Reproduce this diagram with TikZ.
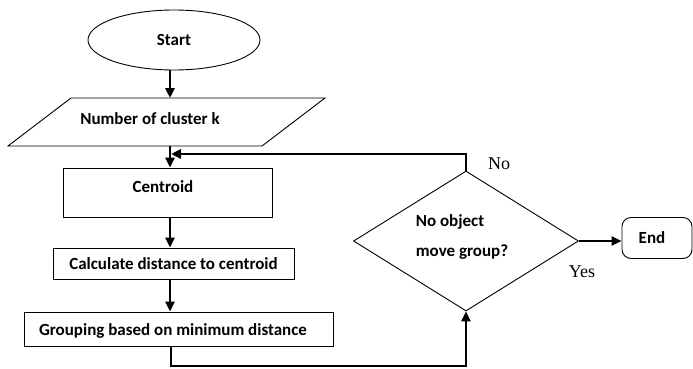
\documentclass[tikz,border=0pt]{standalone}
\usepackage{fontspec}
\setmainfont{Carlito}
\newfontfamily\serifyes{Liberation Serif}
\usetikzlibrary{shapes.geometric,arrows.meta}
\begin{document}
\begin{tikzpicture}[x=1pt,y=-1pt,
  box/.style={draw,line width=0.9pt,inner sep=0pt},
  lbl/.style={font=\fontsize{17}{19}\selectfont\bfseries},
  ans/.style={font=\fontsize{18}{20}\selectfont\serifyes},
  conn/.style={line width=2.6pt},
  arr/.style={conn,-{Triangle[length=10pt,width=9pt]}}]
\useasboundingbox (0,0) rectangle (693,369);
% spine x
\coordinate (spine) at (170,0);
% Start
\node[box,ellipse,minimum width=172pt,minimum height=60pt,lbl] (start) at (174,40) {Start};
% parallelogram
\draw[line width=0.9pt] (71,98) -- (325,98) -- (262,146) -- (8,146) -- cycle;
\coordinate (ptop) at (170,98);
\coordinate (pbot) at (170,146);
\node[lbl] (num) at (150,119) {Number of cluster k};
% rectangles
\node[box,rectangle,minimum width=209pt,minimum height=49pt] (cent) at (167.5,192.5) {};
\node[lbl] (centt) at (163,187) {Centroid};
\node[box,rectangle,minimum width=241pt,minimum height=31pt,lbl] (calc) at (173.5,263.5) {Calculate distance to centroid};
\node[box,rectangle,minimum width=309pt,minimum height=34pt] (grp) at (178.5,329) {};
\node[lbl] (grpt) at (173,331) {Grouping based on minimum distance};
% diamond
\node[box,diamond,minimum width=225pt,minimum height=140pt] (dia) at (466,241) {};
\node[lbl,align=left,font=\fontsize{17}{30}\selectfont\bfseries] (diat) at (462,237) {No object\\move group?};
% End
\node[draw,line width=0.9pt,rounded corners=9pt,minimum width=70pt,minimum height=41pt,lbl,inner sep=0pt] (end) at (657,238) {\hspace*{-10pt}End};
% labels
\node[ans] (no) at (499,164) {No};
\node[ans] (yes) at (582,272) {Yes};
% connectors
\draw[arr] (start.south -| spine) -- (ptop);
\draw[arr] (pbot) -- (cent.north -| spine);
\draw[arr] (cent.south -| spine) -- (calc.north -| spine);
\draw[arr] (calc.south -| spine) -- (grp.north -| spine);
\coordinate (low) at (171,366);
\draw[arr] (grp.south -| low) -- (low) -| (dia.south);
\coordinate (fb) at (171,154);
\draw[arr] (dia.north) |- (fb);
\draw[arr] (dia.east) -- (dia.east -| end.west);
\end{tikzpicture}
\end{document}
